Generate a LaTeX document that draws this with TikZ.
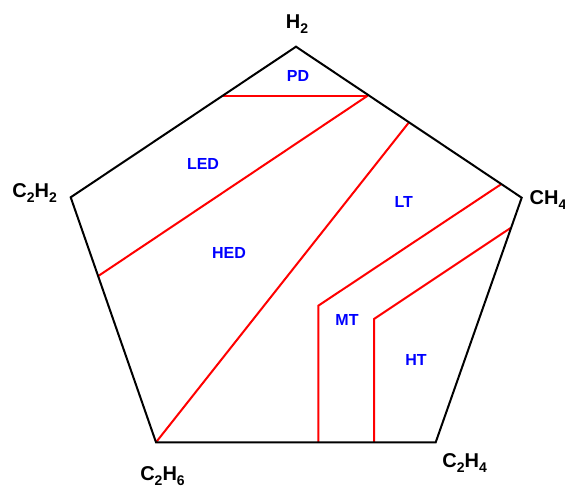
\documentclass[tikz,border=0pt]{standalone}
\usepackage{fontspec}
\setmainfont{Liberation Sans}
\newcommand{\lowsub}[1]{\raisebox{-5pt}{\fontsize{14}{14}\selectfont #1}}
\begin{document}
\begin{tikzpicture}[x=1pt,y=-1pt,
  edge/.style={draw=black,line width=2pt,line join=miter},
  zone/.style={draw=red,line width=2pt},
  vlabel/.style={inner sep=0pt,font=\fontsize{20}{20}\selectfont\bfseries,text=black},
  zlabel/.style={inner sep=0pt,font=\fontsize{16}{16}\selectfont\bfseries,text=blue,anchor=base}]
\useasboundingbox (0,0) rectangle (565,489);
% vertices
\coordinate (H) at (296,46.7);
\coordinate (M) at (521.7,197.7);
\coordinate (E) at (435.7,442.3);
\coordinate (A) at (156,442.3);
\coordinate (Y) at (70.7,197.3);
% points on edges
\coordinate (pdL) at (223.3,95.7);
\coordinate (pdR) at (367.7,95.7);
\coordinate (ledL) at (98.3,276);
\coordinate (ltT) at (409,122.3);
\coordinate (mtT) at (501,184.3);
\coordinate (mtC) at (318.3,305.7);
\coordinate (mtB) at (318.3,442.3);
\coordinate (htT) at (511,227.7);
\coordinate (htC) at (374,319);
\coordinate (htB) at (374,442.3);
% red zone lines
\draw[zone] (pdL) -- (pdR);
\draw[zone] (pdR) -- (ledL);
\draw[zone] (ltT) -- (A);
\draw[zone] (mtT) -- (mtC) -- (mtB);
\draw[zone] (htT) -- (htC) -- (htB);
% pentagon
\draw[edge] (H) -- (M) -- (E) -- (A) -- (Y) -- cycle;
% vertex labels
\node[vlabel,anchor=base] (lH) at (297,28.3) {H\lowsub{2}};
\node[vlabel,anchor=base] (lY) at (34.7,197.3) {C\lowsub{2}H\lowsub{2}};
\node[vlabel,anchor=base west] (lM) at (529.5,204.3) {CH\lowsub{4}};
\node[vlabel,anchor=base] (lA) at (162.5,480.7) {C\lowsub{2}H\lowsub{6}};
\node[vlabel,anchor=base] (lE) at (464.7,467.3) {C\lowsub{2}H\lowsub{4}};
% zone labels
\node[zlabel] (PD) at (298,81.7) {PD};
\node[zlabel] (LED) at (203,169.3) {LED};
\node[zlabel] (HED) at (229,258.3) {HED};
\node[zlabel] (LT) at (403.7,207.7) {LT};
\node[zlabel] (MT) at (347,325) {MT};
\node[zlabel] (HT) at (416,365) {HT};
\end{tikzpicture}
\end{document}
